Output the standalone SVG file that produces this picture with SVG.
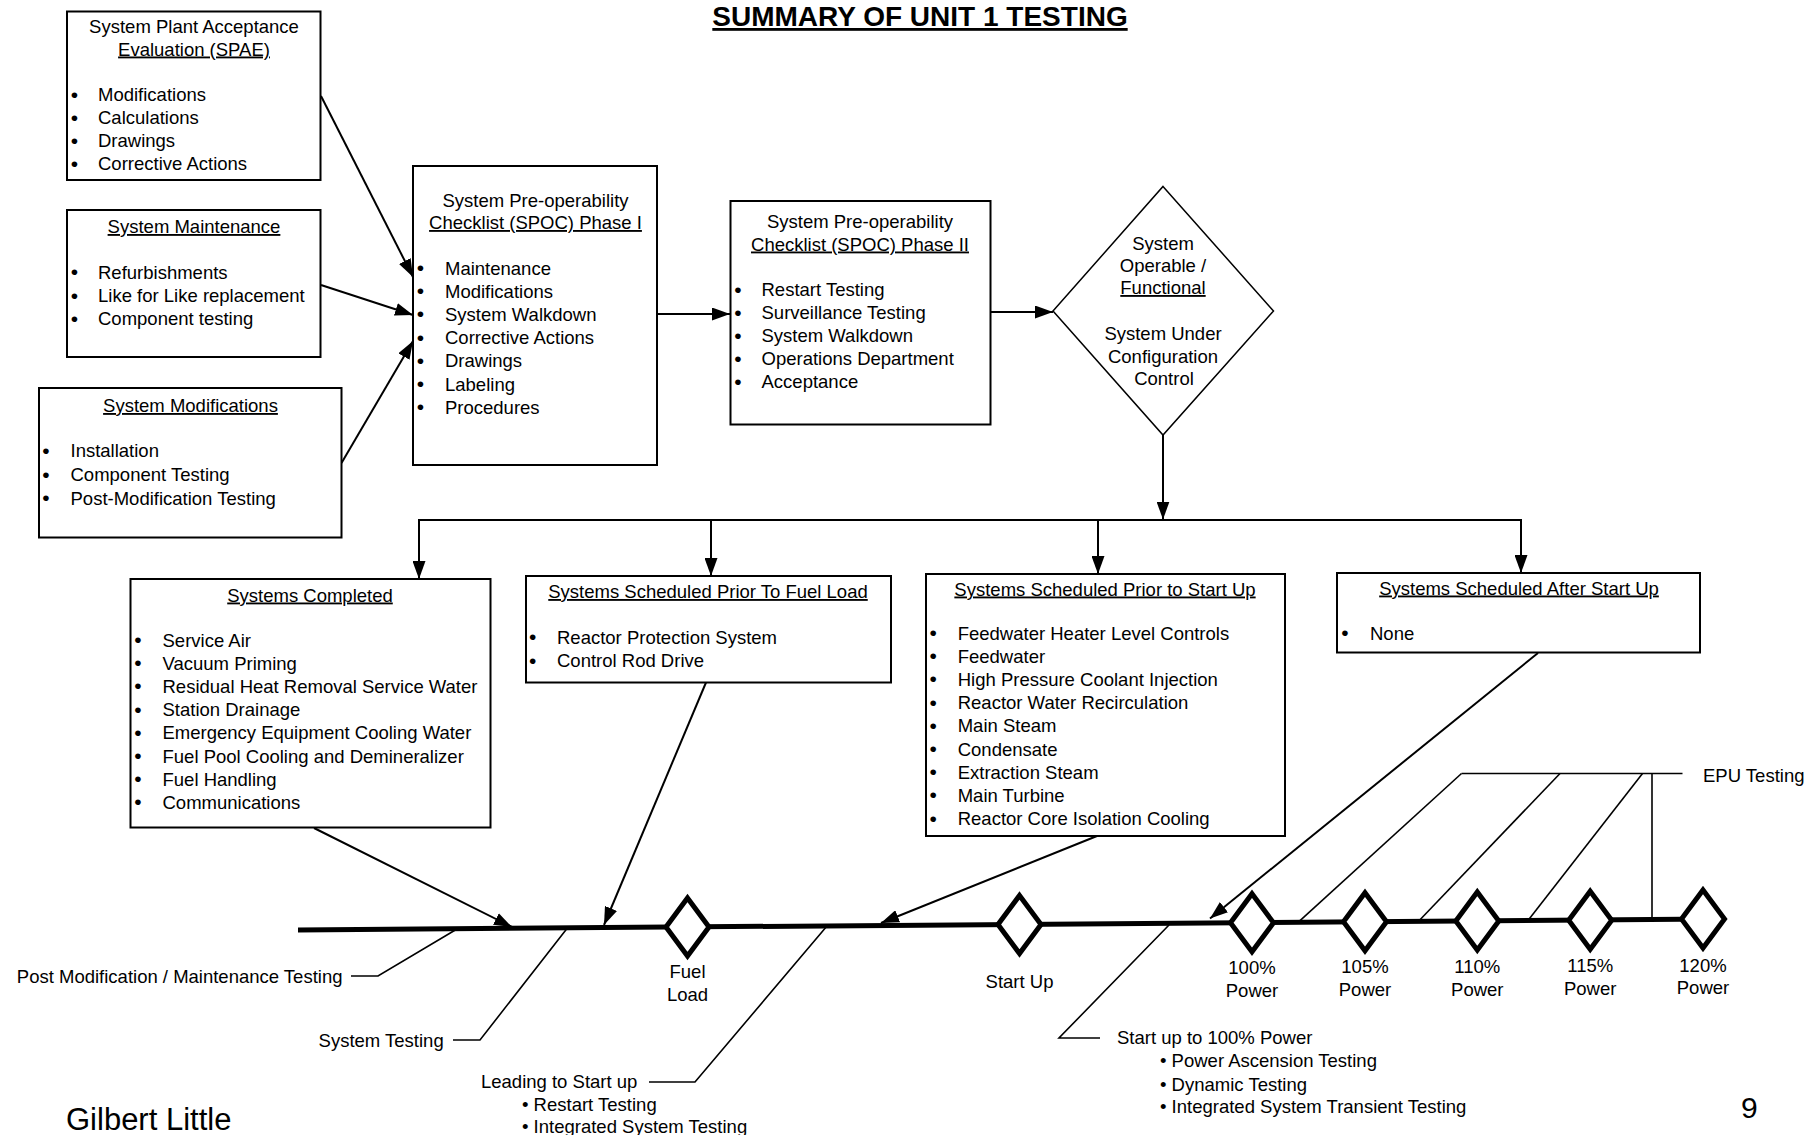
<svg xmlns="http://www.w3.org/2000/svg" width="1808" height="1135" viewBox="0 0 1808 1135">
<defs>
<style>
.box{fill:#fff;stroke:#000;stroke-width:2}
.t{font-family:"Liberation Sans",Arial,sans-serif;font-size:18.5px;fill:#000}
.b{font-family:"Liberation Sans",Arial,sans-serif;font-size:21px;fill:#000;text-anchor:middle}
.u{text-decoration:underline}
.c{text-anchor:middle}
.e{text-anchor:end}
.conn{stroke:#000;stroke-width:2;fill:none}
.thin{stroke:#000;stroke-width:1.6;fill:none}
.tl{stroke:#000;stroke-width:5;fill:none}
.dia{fill:#fff;stroke:#000;stroke-width:5;stroke-linejoin:miter}
.dec{fill:#fff;stroke:#000;stroke-width:1.5}
</style>
<marker id="ah" markerUnits="userSpaceOnUse" markerWidth="18" markerHeight="13" refX="18" refY="6.5" orient="auto">
<path d="M0,0 L18,6.5 L0,13 z" fill="#000"/>
</marker>
</defs>
<rect width="1808" height="1135" fill="#fff"/>

<text class="t c u" x="920" y="26" style="font-size:28px;font-weight:bold">SUMMARY OF UNIT 1 TESTING</text>

<g id="connectors">
<line class="conn" x1="321" y1="96" x2="413" y2="277" marker-end="url(#ah)"/>
<line class="conn" x1="321" y1="285" x2="413" y2="315" marker-end="url(#ah)"/>
<line class="conn" x1="341.5" y1="463" x2="413" y2="341" marker-end="url(#ah)"/>
<line class="conn" x1="657" y1="314" x2="730" y2="314" marker-end="url(#ah)"/>
<line class="conn" x1="990.5" y1="312" x2="1053" y2="312" marker-end="url(#ah)"/>
<line class="conn" x1="1163" y1="435" x2="1163" y2="519.5" marker-end="url(#ah)"/>
<polyline class="conn" points="419,579 419,520 1521,520 1521,573"/>
<line class="conn" x1="419" y1="520" x2="419" y2="579" marker-end="url(#ah)"/>
<line class="conn" x1="711" y1="520" x2="711" y2="576" marker-end="url(#ah)"/>
<line class="conn" x1="1098" y1="520" x2="1098" y2="574" marker-end="url(#ah)"/>
<line class="conn" x1="1521" y1="520" x2="1521" y2="573" marker-end="url(#ah)"/>
<line class="conn" x1="314" y1="828" x2="512" y2="927" marker-end="url(#ah)"/>
<line class="conn" x1="706" y1="682.5" x2="604" y2="925" marker-end="url(#ah)"/>
<line class="conn" x1="1097" y1="836" x2="881" y2="923" marker-end="url(#ah)"/>
<line class="conn" x1="1538" y1="653" x2="1210" y2="918.5" marker-end="url(#ah)"/>
<polyline class="thin" points="351,976 378,976 457,929"/>
<polyline class="thin" points="453,1040 480,1040 567,928.5"/>
<polyline class="thin" points="649,1082 695,1082 827,926"/>
<polyline class="thin" points="1100,1038 1059,1038 1169,925"/>
<line class="thin" x1="1461.5" y1="773.5" x2="1682.5" y2="773.5"/>
<line class="thin" x1="1461.5" y1="773.5" x2="1300" y2="920.7"/>
<line class="thin" x1="1560" y1="773.5" x2="1420" y2="919.8"/>
<line class="thin" x1="1642.5" y1="773.5" x2="1528" y2="920.5"/>
<line class="thin" x1="1652" y1="773.5" x2="1652" y2="919.7"/>
<line class="tl" x1="298" y1="930" x2="1682" y2="919.2"/>
</g>

<g id="spae">
<rect class="box" x="67" y="11.5" width="253.5" height="168.5"/>
<text class="t c" x="194" y="33">System Plant Acceptance</text>
<text class="t c u" x="194" y="55.5">Evaluation (SPAE)</text>
<text class="b" x="74.5" y="101.5">•</text><text class="t" x="98" y="101">Modifications</text>
<text class="b" x="74.5" y="124.5">•</text><text class="t" x="98" y="124">Calculations</text>
<text class="b" x="74.5" y="147.5">•</text><text class="t" x="98" y="147">Drawings</text>
<text class="b" x="74.5" y="170.5">•</text><text class="t" x="98" y="170">Corrective Actions</text>
</g>

<g id="sysmaint">
<rect class="box" x="67" y="210" width="253.5" height="147"/>
<text class="t c u" x="194" y="233">System Maintenance</text>
<text class="b" x="74.5" y="279">•</text><text class="t" x="98" y="278.5">Refurbishments</text>
<text class="b" x="74.5" y="302.5">•</text><text class="t" x="98" y="302">Like for Like replacement</text>
<text class="b" x="74.5" y="325.5">•</text><text class="t" x="98" y="325">Component testing</text>
</g>

<g id="sysmod">
<rect class="box" x="39" y="388" width="302.5" height="149.5"/>
<text class="t c u" x="190.5" y="412">System Modifications</text>
<text class="b" x="46" y="457.5">•</text><text class="t" x="70.5" y="457">Installation</text>
<text class="b" x="46" y="481.5">•</text><text class="t" x="70.5" y="481">Component Testing</text>
<text class="b" x="46" y="505">•</text><text class="t" x="70.5" y="504.5">Post-Modification Testing</text>
</g>

<g id="spoc1">
<rect class="box" x="413" y="166" width="244" height="299"/>
<text class="t c" x="535.5" y="206.5">System Pre-operability</text>
<text class="t c u" x="535.5" y="229">Checklist (SPOC) Phase I</text>
<text class="b" x="420.5" y="275">•</text><text class="t" x="445" y="274.5">Maintenance</text>
<text class="b" x="420.5" y="298">•</text><text class="t" x="445" y="297.5">Modifications</text>
<text class="b" x="420.5" y="321">•</text><text class="t" x="445" y="320.5">System Walkdown</text>
<text class="b" x="420.5" y="344.5">•</text><text class="t" x="445" y="344">Corrective Actions</text>
<text class="b" x="420.5" y="367.5">•</text><text class="t" x="445" y="367">Drawings</text>
<text class="b" x="420.5" y="391">•</text><text class="t" x="445" y="390.5">Labeling</text>
<text class="b" x="420.5" y="414">•</text><text class="t" x="445" y="413.5">Procedures</text>
</g>

<g id="spoc2">
<rect class="box" x="730.5" y="201" width="260" height="223.5"/>
<text class="t c" x="860" y="228">System Pre-operability</text>
<text class="t c u" x="860" y="250.5">Checklist (SPOC) Phase II</text>
<text class="b" x="738" y="296.5">•</text><text class="t" x="761.5" y="296">Restart Testing</text>
<text class="b" x="738" y="319.5">•</text><text class="t" x="761.5" y="319">Surveillance Testing</text>
<text class="b" x="738" y="342.5">•</text><text class="t" x="761.5" y="342">System Walkdown</text>
<text class="b" x="738" y="365.5">•</text><text class="t" x="761.5" y="365">Operations Department</text>
<text class="b" x="738" y="388.5">•</text><text class="t" x="761.5" y="388">Acceptance</text>
</g>

<g id="decision">
<polygon class="dec" points="1163,186.5 1273.5,311 1163,435 1053,311"/>
<text class="t c" x="1163" y="249.5">System</text>
<text class="t c" x="1163" y="271.5">Operable /</text>
<text class="t c u" x="1163" y="294">Functional</text>
<text class="t c" x="1163" y="339.5">System Under</text>
<text class="t c" x="1163" y="362.5">Configuration</text>
<text class="t c" x="1164" y="384.5">Control</text>
</g>

<g id="completed">
<rect class="box" x="130.5" y="579" width="360" height="248.5"/>
<text class="t c u" x="310" y="601.5">Systems Completed</text>
<text class="b" x="138" y="647">•</text><text class="t" x="162.5" y="646.5">Service Air</text>
<text class="b" x="138" y="670.2">•</text><text class="t" x="162.5" y="669.7">Vacuum Priming</text>
<text class="b" x="138" y="693.4">•</text><text class="t" x="162.5" y="692.9">Residual Heat Removal Service Water</text>
<text class="b" x="138" y="716.6">•</text><text class="t" x="162.5" y="716.1">Station Drainage</text>
<text class="b" x="138" y="739.8">•</text><text class="t" x="162.5" y="739.3">Emergency Equipment Cooling Water</text>
<text class="b" x="138" y="763">•</text><text class="t" x="162.5" y="762.5">Fuel Pool Cooling and Demineralizer</text>
<text class="b" x="138" y="786.2">•</text><text class="t" x="162.5" y="785.7">Fuel Handling</text>
<text class="b" x="138" y="809.4">•</text><text class="t" x="162.5" y="808.9">Communications</text>
</g>

<g id="prefuel">
<rect class="box" x="526" y="576" width="365" height="106.5"/>
<text class="t c u" x="708" y="598">Systems Scheduled Prior To Fuel Load</text>
<text class="b" x="532.7" y="644">•</text><text class="t" x="557" y="643.5">Reactor Protection System</text>
<text class="b" x="532.7" y="667.5">•</text><text class="t" x="557" y="667">Control Rod Drive</text>
</g>

<g id="prestartup">
<rect class="box" x="926" y="574" width="359" height="262"/>
<text class="t c u" x="1105" y="595.5">Systems Scheduled Prior to Start Up</text>
<text class="b" x="933.3" y="640">•</text><text class="t" x="957.7" y="639.5">Feedwater Heater Level Controls</text>
<text class="b" x="933.3" y="663.2">•</text><text class="t" x="957.7" y="662.7">Feedwater</text>
<text class="b" x="933.3" y="686.4">•</text><text class="t" x="957.7" y="685.9">High Pressure Coolant Injection</text>
<text class="b" x="933.3" y="709.6">•</text><text class="t" x="957.7" y="709.1">Reactor Water Recirculation</text>
<text class="b" x="933.3" y="732.8">•</text><text class="t" x="957.7" y="732.3">Main Steam</text>
<text class="b" x="933.3" y="756">•</text><text class="t" x="957.7" y="755.5">Condensate</text>
<text class="b" x="933.3" y="779.2">•</text><text class="t" x="957.7" y="778.7">Extraction Steam</text>
<text class="b" x="933.3" y="802.4">•</text><text class="t" x="957.7" y="801.9">Main Turbine</text>
<text class="b" x="933.3" y="825.6">•</text><text class="t" x="957.7" y="825.1">Reactor Core Isolation Cooling</text>
</g>

<g id="afterstartup">
<rect class="box" x="1337" y="573" width="363" height="79.5"/>
<text class="t c u" x="1519" y="594.5">Systems Scheduled After Start Up</text>
<text class="b" x="1345" y="640">•</text><text class="t" x="1370" y="639.5">None</text>
</g>

<g id="milestones">
<polygon class="dia" points="687.5,898 709,927 687.5,956 666,927"/>
<polygon class="dia" points="1019.5,895.5 1041,924.5 1019.5,953.5 998,924.5"/>
<polygon class="dia" points="1252,893.8 1273.5,922.8 1252,951.8 1230.5,922.8"/>
<polygon class="dia" points="1365,892.8 1386.5,921.8 1365,950.8 1343.5,921.8"/>
<polygon class="dia" points="1477.3,892 1498.8,921 1477.3,950 1455.8,921"/>
<polygon class="dia" points="1590.2,891.2 1611.7,920.2 1590.2,949.2 1568.7,920.2"/>
<polygon class="dia" points="1703,890 1724.5,919 1703,948 1681.5,919"/>
<text class="t c" x="687.5" y="978">Fuel</text>
<text class="t c" x="687.5" y="1000.5">Load</text>
<text class="t c" x="1019.5" y="988">Start Up</text>
<text class="t c" x="1252" y="973.5">100%</text><text class="t c" x="1252" y="996.5">Power</text>
<text class="t c" x="1365" y="973">105%</text><text class="t c" x="1365" y="996">Power</text>
<text class="t c" x="1477.3" y="972.5">110%</text><text class="t c" x="1477.3" y="995.5">Power</text>
<text class="t c" x="1590.2" y="972">115%</text><text class="t c" x="1590.2" y="995">Power</text>
<text class="t c" x="1703" y="971.5">120%</text><text class="t c" x="1703" y="994">Power</text>
</g>

<g id="labels">
<text class="t e" x="342.5" y="982.5">Post Modification / Maintenance Testing</text>
<text class="t e" x="443.7" y="1046.5">System Testing</text>
<text class="t" x="481" y="1088">Leading to Start up</text>
<text class="t" x="522" y="1110.5">• Restart Testing</text>
<text class="t" x="522" y="1132.5">• Integrated System Testing</text>
<text class="t" x="1117" y="1044">Start up to 100% Power</text>
<text class="t" x="1160" y="1067">• Power Ascension Testing</text>
<text class="t" x="1160" y="1090.5">• Dynamic Testing</text>
<text class="t" x="1160" y="1113">• Integrated System Transient Testing</text>
<text class="t" x="1703" y="781.5">EPU Testing</text>
<text class="t" x="66" y="1130" style="font-size:31px">Gilbert Little</text>
<text class="t" x="1741" y="1118" style="font-size:30px">9</text>
</g>
</svg>
